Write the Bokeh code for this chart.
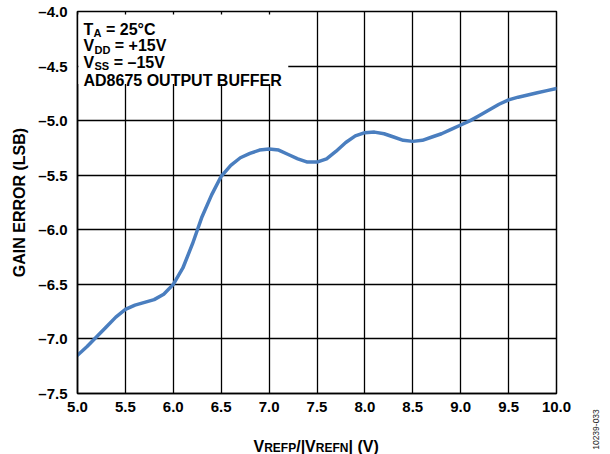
import math
from bokeh.plotting import figure
from bokeh.layouts import row, column
from bokeh.models import (Label, BoxAnnotation, FixedTicker, CustomJSTickFormatter,
                          Range1d, ColumnDataSource)
from bokeh.embed import file_html
from bokeh.resources import INLINE

# ---- data ----
vref_ratio = [5.0, 5.1, 5.2, 5.3, 5.4, 5.5, 5.6, 5.7, 5.8, 5.9,
              6.0, 6.1, 6.2, 6.3, 6.4, 6.5, 6.6, 6.7, 6.8, 6.9,
              7.0, 7.1, 7.2, 7.3, 7.4, 7.5, 7.6, 7.7, 7.8, 7.9,
              8.0, 8.1, 8.2, 8.3, 8.4, 8.5, 8.6, 8.7, 8.8, 8.9,
              9.0, 9.1, 9.2, 9.3, 9.4, 9.5, 9.6, 9.7, 9.8, 9.9, 10.0]
gain_error_lsb = [-7.15, -7.07, -6.98, -6.89, -6.80, -6.73, -6.69, -6.665, -6.64, -6.59,
                  -6.50, -6.35, -6.13, -5.88, -5.68, -5.51, -5.41, -5.34, -5.30, -5.27,
                  -5.26, -5.27, -5.31, -5.35, -5.38, -5.38, -5.35, -5.28, -5.20, -5.14,
                  -5.11, -5.105, -5.12, -5.15, -5.18, -5.19, -5.18, -5.15, -5.12, -5.08,
                  -5.04, -5.00, -4.95, -4.90, -4.85, -4.81, -4.785, -4.765, -4.745, -4.725,
                  -4.705]
x_ticks = [5.0, 5.5, 6.0, 6.5, 7.0, 7.5, 8.0, 8.5, 9.0, 9.5, 10.0]
y_ticks = [-7.5, -7.0, -6.5, -6.0, -5.5, -5.0, -4.5, -4.0]

FONT = "Liberation Sans"

# ---------------- main chart ----------------
p = figure(width=572, height=420, output_backend="svg", toolbar_location=None,
           x_range=Range1d(5.0, 10.0), y_range=Range1d(-7.5, -4.0),
           min_border_left=77, min_border_right=16, min_border_top=11,
           min_border_bottom=27)
p.background_fill_color = "white"
p.border_fill_color = "white"
p.outline_line_color = "black"
p.outline_line_width = 1.5
p.outline_line_alpha = 1.0

p.xaxis.ticker = FixedTicker(ticks=x_ticks)
p.yaxis.ticker = FixedTicker(ticks=y_ticks)
p.xaxis.formatter = CustomJSTickFormatter(code="return tick.toFixed(1);")
p.yaxis.formatter = CustomJSTickFormatter(
    code="return tick.toFixed(1).replace('-', '\u2013');")
for ax in (p.xaxis, p.yaxis):
    ax.major_tick_out = 0
    ax.major_tick_in = 0
    ax.minor_tick_out = 0
    ax.minor_tick_in = 0
    ax.axis_line_color = "black"
    ax.axis_line_width = 1.5
    ax.major_label_text_font = FONT
    ax.major_label_text_font_size = "15px"
    ax.major_label_text_font_style = "bold"
    ax.major_label_text_color = "black"
p.xaxis.major_label_standoff = 8
p.yaxis.major_label_standoff = 10
p.yaxis.axis_label = "GAIN ERROR (LSB)"
p.yaxis.axis_label_text_font = FONT
p.yaxis.axis_label_text_font_size = "16px"
p.yaxis.axis_label_text_font_style = "bold"
p.yaxis.axis_label_text_color = "black"
p.yaxis.axis_label_standoff = 7

p.xgrid.ticker = FixedTicker(ticks=x_ticks)
p.ygrid.ticker = FixedTicker(ticks=y_ticks)
for g in (p.xgrid, p.ygrid):
    g.grid_line_color = "black"
    g.grid_line_alpha = 1.0
    g.grid_line_width = 1.3

src = ColumnDataSource(dict(x=vref_ratio, y=gain_error_lsb))
p.line("x", "y", source=src, line_color="#4a7ebf", line_width=3.5,
       line_join="round", line_cap="round")

# white background behind the condition text
p.add_layout(BoxAnnotation(left=5.01, right=7.2, top=-4.028, bottom=-4.665,
                           fill_color="white", fill_alpha=1.0, line_alpha=0.0,
                           level="overlay"))


def lab(fig, x, y, text, xo, yo, size, style="bold", align="left",
        baseline="alphabetic", angle=0.0, color="black"):
    fig.add_layout(Label(x=x, y=y, x_units="data", y_units="data", text=text,
                         x_offset=xo, y_offset=yo, text_font=FONT,
                         text_font_size=size, text_font_style=style,
                         text_align=align, text_baseline=baseline, angle=angle,
                         text_color=color, level="overlay"))


# condition text (main 16px, subscripts 11px)
lab(p, 5.0, -4.0, "T", 6, -17.5, "16px")
lab(p, 5.0, -4.0, "A", 16, -21.5, "11px")
lab(p, 5.0, -4.0, "= 25°C", 28.5, -17.5, "16px")
lab(p, 5.0, -4.0, "V", 6, -34, "16px")
lab(p, 5.0, -4.0, "DD", 17, -38, "11px")
lab(p, 5.0, -4.0, "= +15V", 37.3, -34, "16px")
lab(p, 5.0, -4.0, "V", 6, -50.5, "16px")
lab(p, 5.0, -4.0, "SS", 17, -54.5, "11px")
lab(p, 5.0, -4.0, "= \u201315V", 36.2, -50.5, "16px")
lab(p, 5.0, -4.0, "AD8675 OUTPUT BUFFER", 6, -68.5, "16px")


def blank(w, h, x_range, min_left=0, min_right=0):
    f = figure(width=w, height=h, output_backend="svg", toolbar_location=None,
               x_range=x_range, y_range=Range1d(0, h),
               x_axis_location=None, y_axis_location=None,
               min_border_left=min_left, min_border_right=min_right,
               min_border_top=0, min_border_bottom=0)
    f.grid.visible = False
    f.outline_line_color = None
    f.background_fill_color = "white"
    f.border_fill_color = "white"
    return f


# ---------------- x-axis title strip (shares the chart's x scale) ----------------
xt = blank(572, 34, p.x_range, min_left=77, min_right=16)
bx = 253 - 77   # pixel offset of the title start from x = 5.0
lab(xt, 5.0, 8.5, "V", bx, 0, "16px")
lab(xt, 5.0, 6.5, "REFP", bx + 10.7, 0, "12px")
lab(xt, 5.0, 8.5, "/|V", bx + 42.7, 0, "16px")
lab(xt, 5.0, 6.5, "REFN", bx + 62.3, 0, "12px")
lab(xt, 5.0, 8.5, "| (V)", bx + 95.0, 0, "16px")

# ---------------- right strip with figure id ----------------
side = blank(38, 454, Range1d(0, 38))
lab(side, 23, 25, "10239-033", 0, 0, "8.5px", style="normal", align="center",
    baseline="middle", angle=math.pi / 2, color="#222222")

layout = row(column(p, xt, spacing=0), side, spacing=0)
open("out.html", "w").write(file_html(layout, INLINE))
